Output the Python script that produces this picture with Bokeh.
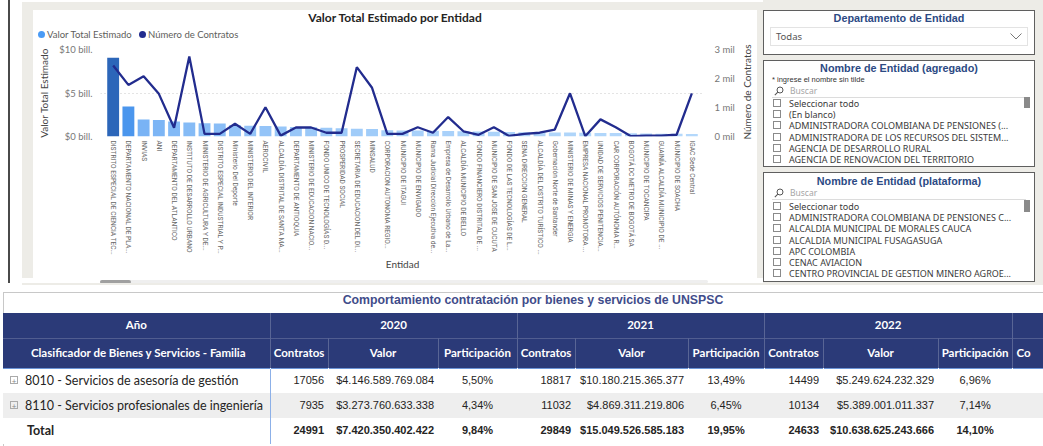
import math
from bokeh.plotting import figure
from bokeh.models import (ColumnDataSource, Range1d, LinearAxis, FixedTicker,
                          Div, LinearColorMapper)
from bokeh.layouts import row, column
from bokeh.transform import transform
from bokeh.embed import file_html
from bokeh.resources import INLINE

# ---------------- data: chart ----------------
chart_title = "Valor Total Estimado por Entidad"
series_names = ["Valor Total Estimado", "Número de Contratos"]
x_title = "Entidad"

entidades = [
    "DISTRITO ESPECIAL DE CIENCIA TEC...",
    "DEPARTAMENTO NACIONAL DE PLA...",
    "INVIAS",
    "ANI",
    "DEPARTAMENTO DEL ATLANTICO",
    "INSTITUTO DE DESARROLLO URBANO",
    "MINISTERIO DE AGRICULTURA Y DE...",
    "DISTRITO ESPECIAL INDUSTRIAL Y P...",
    "Ministerio Del Deporte",
    "MINISTERIO DEL INTERIOR",
    "AEROCIVIL",
    "ALCALDÍA DISTRITAL DE SANTA MA...",
    "DEPARTAMENTO DE ANTIOQUIA",
    "MINISTERIO DE EDUCACION NACIO...",
    "FONDO UNICO DE TECNOLOGÍAS D...",
    "PROSPERIDAD SOCIAL",
    "SECRETARIA DE EDUCACION DEL DI...",
    "MINSALUD",
    "CORPORACION AUTONOMA REGIO...",
    "MUNICIPIO DE ITAGUI",
    "MUNICIPIO DE ENVIGADO",
    "Rama Judicial Dirección Ejecutiva de...",
    "Empresa de Desarrollo Urbano de La...",
    "ALCALDÍA MUNICIPIO DE BELLO",
    "FONDO FINANCIERO DISTRITAL DE ...",
    "MUNICIPIO DE SAN JOSE DE CUCUTA",
    "FONDO DE LAS TECNOLOGÍAS DE L...",
    "SENA DIRECCION GENERAL",
    "ALCALDÍA DEL DISTRITO TURÍSTICO ...",
    "Gobernación Norte de Santander",
    "MINISTERIO DE MINAS Y ENERGIA",
    "EMPRESA NACIONAL PROMOTORA ...",
    "UNIDAD DE SERVICIOS PENITENCIA...",
    "CAR CORPORACIÓN AUTÓNOMA R...",
    "BOGOTÁ DC METRO DE BOGOTÁ SA",
    "MUNICIPIO DE TOCANCIPA",
    "GUAINÍA ALCALDÍA MUNICIPIO DE ...",
    "MUNICIPIO DE SOACHA",
    "IGAC Sede Central",
]

# Valor Total Estimado (billones de pesos)
valor_bill = [9.05, 3.45, 1.95, 1.90, 1.72, 1.60, 1.53, 1.50, 1.30, 1.25,
              1.22, 1.15, 1.08, 1.05, 1.00, 0.95, 0.88, 0.85, 0.72, 0.70,
              0.68, 0.65, 0.62, 0.60, 0.58, 0.55, 0.52, 0.50, 0.48, 0.46,
              0.45, 0.43, 0.41, 0.39, 0.37, 0.35, 0.33, 0.32, 0.30]

# Número de Contratos
num_contratos = [2450, 1780, 2080, 1470, 300, 2760, 90, 90, 440, 90,
                 1010, 30, 310, 310, 130, 130, 2390, 1680, 90, 90,
                 320, 130, 670, 180, 60, 320, 20, 90, 130, 240,
                 1490, 10, 590, 320, 10, 30, 30, 60, 1490]

valor_ticks = [0, 5, 10]
valor_tick_labels = ["$0 bill.", "$5 bill.", "$10 bill."]
contratos_ticks = [0, 1000, 2000, 3000]
contratos_tick_labels = ["0 mil", "1 mil", "2 mil", "3 mil"]

# ---------------- data: slicers ----------------
departamento_sel = "Todas"
entidad_agregado = ["Seleccionar todo", "(En blanco)",
                    "ADMINISTRADORA COLOMBIANA DE PENSIONES (...",
                    "ADMINISTRADORA DE LOS RECURSOS DEL SISTEM...",
                    "AGENCIA DE DESARROLLO RURAL",
                    "AGENCIA DE RENOVACION DEL TERRITORIO"]
entidad_plataforma = ["Seleccionar todo",
                      "ADMINISTRADORA COLOMBIANA DE PENSIONES C...",
                      "ALCALDIA MUNICIPAL DE MORALES CAUCA",
                      "ALCALDIA MUNICIPAL FUSAGASUGA",
                      "APC COLOMBIA",
                      "CENAC AVIACION",
                      "CENTRO PROVINCIAL DE GESTION MINERO AGROE..."]

# ---------------- data: table ----------------
table_title = "Comportamiento contratación por bienes y servicios de UNSPSC"
anios = ["2020", "2021", "2022"]
familias = ["8010 - Servicios de asesoría de gestión",
            "8110 - Servicios profesionales de ingeniería"]
contratos_anio = [[17056, 7935], [18817, 11032], [14499, 10134]]
valor_anio = [[4146589769084, 3273760633338],
              [10180215365377, 4869311219806],
              [5249624232329, 5389001011337]]
participacion_anio = [[5.50, 4.34], [13.49, 6.45], [6.96, 7.14]]
total_contratos = [24991, 29849, 24633]
total_valor = [7420350402422, 15049526585183, 10638625243666]
total_participacion = [9.84, 19.95, 14.10]

# ---------------- styles ----------------
GRAY_BG = "#EDECE7"
NAVY = "#222C8E"
BAR_LEGEND = "#4A9BF5"
HEADER = "#2B3A78"


def hex_rgb(h):
    return tuple(int(h[i:i + 2], 16) for i in (1, 3, 5))


def gradient(stops, n=256):
    out = []
    for i in range(n):
        t = i / (n - 1)
        for (t0, c0), (t1, c1) in zip(stops[:-1], stops[1:]):
            if t0 <= t <= t1:
                f = (t - t0) / (t1 - t0) if t1 > t0 else 0
                a, b = hex_rgb(c0), hex_rgb(c1)
                out.append("#%02x%02x%02x" % tuple(round(a[k] + (b[k] - a[k]) * f) for k in range(3)))
                break
    return out


palette = gradient([(0.0, "#B4D8FB"), (0.33, "#4D98F0"), (1.0, "#2C66B9")])

# ---------------- chart ----------------
source = ColumnDataSource(dict(entidad=entidades, valor=valor_bill, contratos=num_contratos))

p = figure(x_range=entidades, y_range=Range1d(0, 10), width=705, height=233,
           output_backend="svg", toolbar_location=None,
           min_border_left=67, min_border_right=34, min_border_top=9, min_border_bottom=137,
           background_fill_color="white", border_fill_color="white",
           outline_line_color=None)
p.x_range.range_padding = 0.017
p.extra_y_ranges = {"contratos": Range1d(0, 3000)}

mapper = LinearColorMapper(palette=palette, low=min(valor_bill), high=max(valor_bill))
p.vbar(x="entidad", top="valor", width=0.78, source=source,
       fill_color=transform("valor", mapper), line_color=None)
p.line(x="entidad", y="contratos", source=source, y_range_name="contratos",
       line_color=NAVY, line_width=2.3)

# left axis
ya = p.yaxis[0]
ya.ticker = FixedTicker(ticks=valor_ticks)
ya.major_label_overrides = {t: l for t, l in zip(valor_ticks, valor_tick_labels)}
ya.axis_label = series_names[0]

# right axis (its title is drawn beside the figure so it reads bottom-to-top)
ra = LinearAxis(y_range_name="contratos", ticker=FixedTicker(ticks=contratos_ticks))
ra.major_label_overrides = {t: l for t, l in zip(contratos_ticks, contratos_tick_labels)}
p.add_layout(ra, "right")

for ax in [ya, ra]:
    ax.axis_line_color = None
    ax.major_tick_line_color = None
    ax.minor_tick_line_color = None
    ax.major_tick_out = 0
    ax.major_tick_in = 0
    ax.minor_tick_out = 0
    ax.major_label_text_font = "Lato"
    ax.major_label_text_font_size = "9.5px"
    ax.major_label_text_color = "#777777"
    ax.axis_label_text_font = "Lato"
    ax.axis_label_text_font_size = "10px"
    ax.axis_label_text_font_style = "normal"
    ax.axis_label_text_color = "#444444"
ya.major_label_standoff = 8
ya.axis_label_standoff = 6
ra.major_label_standoff = 10

xa = p.xaxis[0]
xa.axis_line_color = None
xa.major_tick_line_color = None
xa.major_tick_out = 0
xa.major_label_orientation = "vertical"
xa.major_label_standoff = 4
xa.major_label_text_font = "Liberation Sans Narrow, Roboto"
xa.major_label_text_font_size = "6.6px"
xa.major_label_text_color = "#666666"
xa.axis_label = x_title
xa.axis_label_text_font = "Lato"
xa.axis_label_text_font_size = "10px"
xa.axis_label_text_font_style = "normal"
xa.axis_label_text_color = "#444444"
xa.axis_label_standoff = 0

p.xgrid.grid_line_color = None
p.ygrid.ticker = FixedTicker(ticks=valor_ticks)
p.ygrid.grid_line_color = "#C8C8C8"
p.ygrid.grid_line_dash = "1 3"
p.ygrid.grid_line_width = 1


# ---------------- helpers for html blocks ----------------
def block(w, h, color):
    return Div(width=w, height=h, margin=0,
               text='<div style="width:%dpx;height:%dpx;background:%s"></div>' % (w, h, color))


def legend_entry(x, color, label):
    return ('<div style="position:absolute;left:%dpx;top:21px;width:7px;height:7px;border-radius:50%%;background:%s"></div>'
            '<div style="position:absolute;left:%dpx;top:18px;line-height:13px;white-space:nowrap;font-family:Lato;'
            'font-size:9.5px;color:#605E5C">%s</div>' % (x, color, x + 9, label))


header = Div(width=724, height=30, margin=0, text=(
    '<div style="position:relative;width:724px;height:30px;background:white">'
    '<div style="position:absolute;left:0;top:0;width:724px;line-height:15px;text-align:center;font-family:Lato;'
    'font-weight:bold;font-size:12px;color:#252423">%s</div>' % chart_title
    + legend_entry(5, BAR_LEGEND, series_names[0])
    + legend_entry(106, NAVY, series_names[1])
    + '</div>'))

right_title = Div(width=19, height=233, margin=0, text=(
    '<div style="position:relative;width:19px;height:233px;background:white">'
    '<div style="position:absolute;left:9px;top:52px;transform:translate(-50%%,-50%%) rotate(-90deg);'
    'white-space:nowrap;line-height:12px;font-family:Lato;font-size:10px;color:#444">%s</div></div>' % series_names[1]))

scroll = Div(width=724, height=5, margin=0, text=(
    '<div style="position:relative;width:724px;height:5px;background:white">'
    '<div style="position:absolute;left:67px;top:0px;width:608px;height:3px;background:#EFEFEF;border-radius:2px"></div>'
    '<div style="position:absolute;left:67px;top:0px;width:31px;height:4px;background:#A0A0A0;border-radius:2px"></div>'
    '</div>'))

card = column(header, row(p, right_title, spacing=0), scroll, spacing=0)

chart_block = column(
    block(741, 10, GRAY_BG),
    row(block(11, 268, GRAY_BG), card, block(6, 268, GRAY_BG), spacing=0),
    block(741, 7, GRAY_BG),
    spacing=0,
)

left_strip = Div(width=22, height=285, margin=0, text=(
    '<div style="position:relative;width:22px;height:285px;background:white">'
    '<div style="position:absolute;left:8px;top:0;width:2px;height:283px;background:#4a4a4a"></div></div>'))

# ---------------- slicers ----------------
TITLE_CSS = ("position:absolute;left:0;width:100%%;text-align:center;font-family:'Liberation Sans',Arial;"
             "font-weight:bold;font-size:10.8px;color:#2C4A84;top:%dpx;line-height:14px")
ITEM_FONT = "font-family:'Noto Sans',Lato;font-size:9px;color:#3a3a3a"


def checkbox_list(items, y0, dy):
    html = ""
    for i, it in enumerate(items):
        y = y0 + i * dy
        html += ('<div style="position:absolute;left:9px;top:%dpx;width:8px;height:8px;border:1px solid #8a8a8a;background:white"></div>'
                 % (round(y - 5)))
        html += ('<div style="position:absolute;left:25px;top:%dpx;white-space:nowrap;line-height:12px;%s">%s</div>'
                 % (round(y - 6), ITEM_FONT, it))
    return html


search_icon = ('<svg style="position:absolute;left:10px;top:%dpx" width="10" height="10" viewBox="0 0 10 10">'
               '<circle cx="6" cy="4" r="3" fill="none" stroke="#555" stroke-width="1"/>'
               '<line x1="3.8" y1="6.2" x2="0.8" y2="9.2" stroke="#555" stroke-width="1.1"/></svg>')

panel_style = ("position:absolute;left:0;width:272px;box-sizing:border-box;"
               "border:1.5px solid #5f5f5f;background:white;overflow:hidden;")

panel1 = ('<div style="%stop:10px;height:45px">' % panel_style
          + '<div style="' + (TITLE_CSS % 0) + '">Departamento de Entidad</div>'
          + '<div style="position:absolute;left:6px;top:16px;width:258px;height:19px;box-sizing:border-box;border:1px solid #e3e3e3;"></div>'
          + '<div style="position:absolute;left:12px;top:19px;line-height:13px;font-family:\'Noto Sans\',Lato;font-size:9.5px;color:#555">%s</div>' % departamento_sel
          + '<svg style="position:absolute;left:246px;top:22px" width="12" height="7" viewBox="0 0 12 7">'
            '<polyline points="0.5,0.5 6,6 11.5,0.5" fill="none" stroke="#777" stroke-width="1"/></svg>'
          + '</div>')

panel2 = ('<div style="%stop:60px;height:107px">' % panel_style
          + '<div style="' + (TITLE_CSS % 0) + '">Nombre de Entidad (agregado)</div>'
          + '<div style="position:absolute;left:8px;top:14px;line-height:10px;font-family:\'Liberation Sans\';font-size:7.5px;color:#333">* ingrese el nombre sin tilde</div>'
          + (search_icon % 25)
          + '<div style="position:absolute;left:26px;top:24px;line-height:12px;font-family:\'Noto Sans\',Lato;font-size:8.5px;color:#A5A5A5">Buscar</div>'
          + '<div style="position:absolute;left:8px;top:36px;width:254px;height:1px;background:#dcdcdc"></div>'
          + '<div style="position:absolute;left:260px;top:36px;width:6px;height:11px;background:#8a8a8a"></div>'
          + checkbox_list(entidad_agregado, 43, 11.2)
          + '</div>')

panel3 = ('<div style="%stop:172px;height:110px">' % panel_style
          + '<div style="' + (TITLE_CSS % 1) + '">Nombre de Entidad (plataforma)</div>'
          + (search_icon % 15)
          + '<div style="position:absolute;left:26px;top:14px;line-height:12px;font-family:\'Noto Sans\',Lato;font-size:8.5px;color:#A5A5A5">Buscar</div>'
          + '<div style="position:absolute;left:8px;top:26px;width:254px;height:1px;background:#dcdcdc"></div>'
          + '<div style="position:absolute;left:260px;top:27px;width:6px;height:12px;background:#8a8a8a"></div>'
          + checkbox_list(entidad_plataforma, 34, 11.2)
          + '</div>')

slicers = Div(width=280, height=285, margin=0, text=(
    '<div style="position:relative;width:280px;height:285px;background:%s">' % GRAY_BG
    + panel1 + panel2 + panel3 + '</div>'))


# ---------------- table ----------------
def fmt_int(v):
    return "{:,}".format(v).replace(",", ".")


def fmt_pct(v):
    return ("%.2f" % v).replace(".", ",") + "%"


col_widths = [267, 58, 110, 79, 58, 113, 76, 59, 115, 74, 58, 110, 79]
SEP = "border-left:1px solid rgba(255,255,255,0.22);"
NUM = "font-family:'Liberation Sans',Arial;font-size:11px;color:#252423;padding-top:0;padding-bottom:0;"
colgroup = "<colgroup>" + "".join('<col style="width:%dpx">' % w for w in col_widths) + "</colgroup>"

h1 = ('<tr style="height:25px;background:%s;color:white;font-family:Lato;font-weight:bold;font-size:11.5px">' % HEADER
      + '<td style="text-align:center;padding:0">Año</td>'
      + "".join('<td colspan="3" style="text-align:center;padding:0;%s">%s</td>' % (SEP, a) for a in anios)
      + '<td colspan="3" style="padding:0;%s"></td></tr>' % SEP)

sub = ["Contratos", "Valor", "Participación"]
h2 = ('<tr style="height:30px;background:%s;color:white;font-family:Lato;font-weight:bold;font-size:11.5px;'
      'border-top:1px solid rgba(255,255,255,0.18);border-bottom:1.5px solid #6C95D8">' % HEADER
      + '<td style="text-align:center;white-space:nowrap;padding:0 0 0 4px">Clasificador de Bienes y Servicios - Familia</td>'
      + "".join('<td style="text-align:center;white-space:nowrap;padding:0;%s">%s</td>' % (SEP, s) for a in anios for s in sub)
      + '<td style="text-align:left;padding:0 0 0 4px;white-space:nowrap;%s">Co</td><td style="%s"></td><td style="%s"></td></tr>' % (SEP, SEP, SEP))

body = ""
row_bg = ["white", "#EEEEEE"]
for i, fam in enumerate(familias):
    body += '<tr style="height:25px;background:%s">' % row_bg[i % 2]
    body += ('<td style="border-right:1px solid #8CB0E8;white-space:nowrap;font-family:Lato;font-size:12.5px;color:#252423;padding:0 0 0 7px">'
             '<span style="display:inline-block;width:8px;height:8px;border:1px solid #aaa;font-size:8px;line-height:8px;text-align:center;color:#888;margin-right:7px;vertical-align:1px">+</span>%s</td>' % fam)
    for k in range(len(anios)):
        body += '<td style="text-align:right;padding-right:4px;%s">%d</td>' % (NUM, contratos_anio[k][i])
        body += '<td style="text-align:right;padding-right:4px;%s">$%s</td>' % (NUM, fmt_int(valor_anio[k][i]))
        body += '<td style="text-align:center;%s">%s</td>' % (NUM, fmt_pct(participacion_anio[k][i]))
    body += '<td></td><td></td><td></td></tr>'

body += '<tr style="height:26px;background:white">'
body += ('<td style="border-right:1px solid #8CB0E8;font-family:Lato;font-weight:bold;font-size:12.5px;color:#252423;padding:0 0 0 24px">Total</td>')
for k in range(len(anios)):
    body += '<td style="text-align:right;padding-right:4px;font-weight:bold;%s">%d</td>' % (NUM, total_contratos[k])
    body += '<td style="text-align:right;padding-right:4px;font-weight:bold;%s">$%s</td>' % (NUM, fmt_int(total_valor[k]))
    body += '<td style="text-align:center;font-weight:bold;%s">%s</td>' % (NUM, fmt_pct(total_participacion[k]))
body += '<td></td><td></td><td></td></tr>'

table_html = (
    '<div style="position:relative;width:1043px;height:161px;background:white;overflow:hidden">'
    '<div style="position:absolute;left:3px;top:7px;width:1040px;height:1px;background:#C8C8C8"></div>'
    '<div style="position:absolute;left:3px;top:7px;width:1px;height:154px;background:#C8C8C8"></div>'
    '<div style="position:absolute;left:0;top:5px;width:1066px;height:20px;line-height:20px;text-align:center;'
    'font-family:\'Liberation Sans\',Arial;font-weight:bold;font-size:12.3px;color:#3F4C8A">%s</div>' % table_title
    + '<table style="position:absolute;left:3px;top:28px;border-collapse:collapse;table-layout:fixed;width:%dpx;border-spacing:0">'
    % sum(col_widths)
    + colgroup + h1 + h2 + body + '</table></div>')

table_div = Div(width=1043, height=161, margin=0, text=table_html)

layout = column(row(left_strip, chart_block, slicers, spacing=0), table_div, spacing=0)

open("out.html", "w").write(file_html(layout, INLINE, title=chart_title))
